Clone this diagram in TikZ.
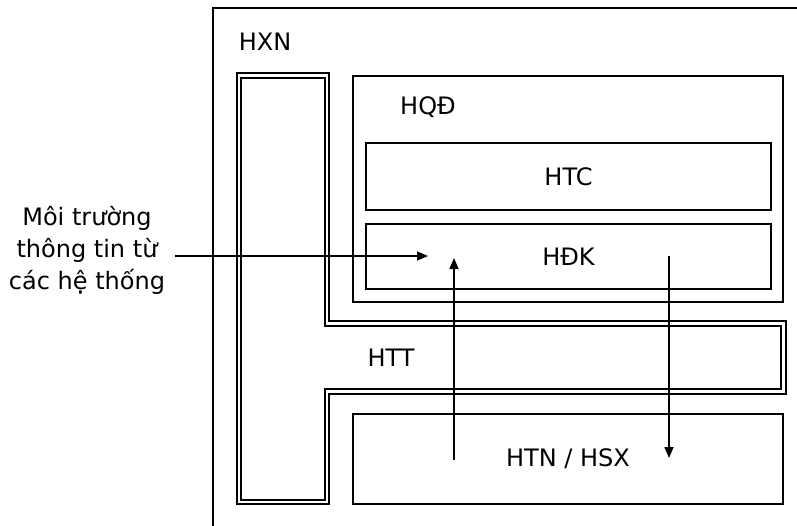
\documentclass[tikz,border=0pt]{standalone}
\usepackage{fontspec}
\setmainfont{DejaVu Sans}
\usetikzlibrary{arrows.meta}

\begin{document}
\begin{tikzpicture}[x=1pt, y=-1pt, >={Triangle[length=11pt,width=9pt]},
  box/.style={draw, line width=1.8pt, inner sep=0pt},
  lbl/.style={font=\fontsize{24}{32}\selectfont, inner sep=0pt},
  twin/.style={draw, line width=2pt, double, double distance=2.6pt}]
  \clip (0,0) rectangle (797,525);
  % HXN outer frame
  \draw[line width=1.3pt] (213,540) |- (810,8);
  \node[lbl] (hxn) at (265,42) {HXN};
  % HTT (T shape)
  \draw[twin] (239,75.5) -- (327,75.5) -- (327,323.5) -- (783.5,323.5)
    -- (783.5,391.5) -- (327,391.5) -- (327,502) -- (239,502) -- cycle;
  \node[lbl] (htt) at (391,358) {HTT};
  % HQD and its parts
  \node[box, minimum width=430pt, minimum height=226pt] (hqd) at (568,189) {};
  \node[lbl] (hqdt) at (428,107) {HQĐ};
  \node[box, lbl, minimum width=405pt, minimum height=67pt] (htc) at (568.5,176.5) {HTC};
  \node[box, lbl, minimum width=405pt, minimum height=65pt] (hdk) at (568.5,256.5) {HĐK};
  \node[box, lbl, minimum width=430pt, minimum height=90pt] (htn) at (568,459) {HTN / HSX};
  % environment
  \node[lbl, align=center] (env) at (87,250) {Môi trường\\thông tin từ\\các hệ thống};
  \coordinate (inA) at (175,256);
  \coordinate (inB) at (428,256);
  \coordinate (upA) at (454,460);
  \coordinate (upB) at (454,258);
  \coordinate (dnA) at (669,256);
  \coordinate (dnB) at (669,458);
  \draw[->, line width=1.5pt] (inA) -- (inB);
  \draw[->, line width=1.5pt] (upA) -- (upB);
  \draw[->, line width=1.5pt] (dnA) -- (dnB);
\end{tikzpicture}
\end{document}
